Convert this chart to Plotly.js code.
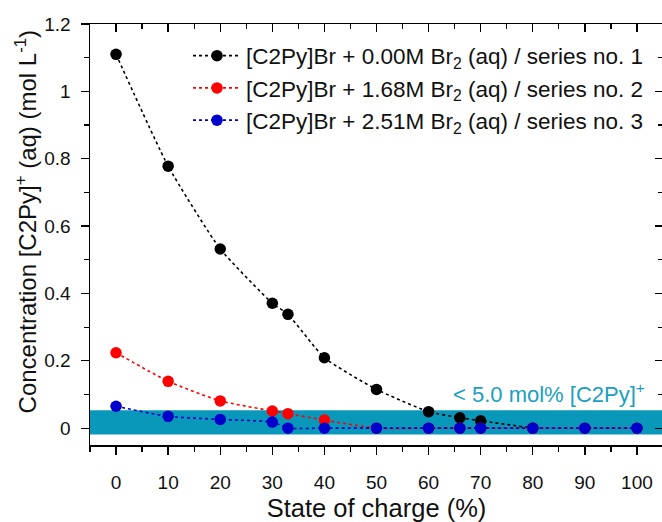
<!DOCTYPE html>
<html>
<head>
<meta charset="utf-8">
<script src="https://cdn.plot.ly/plotly-3.0.1.min.js"></script>
<style>html,body{margin:0;padding:0;overflow:hidden;background:#fff;}</style>
</head>
<body>
<div id="chart"></div>
<script>
// State of charge (%) and [C2Py]+ concentration (mol/L)
const socBlack = [0, 10, 20, 30, 33, 40, 50, 60, 66, 70, 80];
const concBlack = [1.11, 0.778, 0.532, 0.371, 0.338, 0.209, 0.115, 0.049, 0.031, 0.022, 0];
const socRed = [0, 10, 20, 30, 33, 40, 50, 60, 66, 70, 80, 90, 100];
const concRed = [0.224, 0.139, 0.081, 0.051, 0.043, 0.024, 0, 0, 0, 0, 0, 0, 0];
const socBlue = [0, 10, 20, 30, 33, 40, 50, 60, 66, 70, 80, 90, 100];
const concBlue = [0.065, 0.035, 0.026, 0.018, 0, 0, 0, 0, 0, 0, 0, 0, 0];
const seriesNames = [
  '[C2Py]Br + 0.00M Br<sub>2</sub> (aq) / series no. 1',
  '[C2Py]Br + 1.68M Br<sub>2</sub> (aq) / series no. 2',
  '[C2Py]Br + 2.51M Br<sub>2</sub> (aq) / series no. 3'
];
const bandLow = -0.019, bandHigh = 0.053;
const xTicks = [0, 10, 20, 30, 40, 50, 60, 70, 80, 90, 100];
const xRange = [-5, 105];
const yRange = [-0.05, 1.2];

const font = 'Liberation Sans, Arial, sans-serif';
function tr(x, y, name, color) {
  return {
    x: x, y: y, name: name, type: 'scatter', mode: 'lines+markers',
    line: {color: color, dash: 'dot', width: 1.6, shape: 'spline', smoothing: 0.5},
    marker: {color: color, size: 11.5}
  };
}
const data = [
  tr(socBlack, concBlack, seriesNames[0], '#000000'),
  tr(socRed, concRed, seriesNames[1], '#ff0000'),
  tr(socBlue, concBlue, seriesNames[2], '#0000cc'),
  {x: [null], y: [null], xaxis: 'x2', yaxis: 'y2', type: 'scatter', mode: 'markers',
   showlegend: false, hoverinfo: 'skip'}
];
const axisCommon = {
  showline: true, linecolor: '#000', linewidth: 1.5,
  ticklen: 8, tickwidth: 1.3, tickcolor: '#000',
  showgrid: false, zeroline: false,
  tickfont: {family: font, size: 19, color: '#111'}
};
const layout = {
  width: 664, height: 522,
  margin: {l: 90, r: 1, t: 23.5, b: 77},
  paper_bgcolor: '#fff', plot_bgcolor: '#fff',
  font: {family: font, color: '#111'},
  showlegend: true,
  legend: {
    x: 0.171, y: 0.975, xanchor: 'left', yanchor: 'top',
    bgcolor: 'rgba(0,0,0,0)', font: {family: font, size: 22.5, color: '#111'},
    tracegroupgap: 0, itemwidth: 48
  },
  xaxis: Object.assign({}, axisCommon, {
    range: xRange, tickvals: xTicks, ticks: 'outside', ticklabelstandoff: 12,
    minor: {dtick: 5, tick0: 0, ticks: 'outside', ticklen: 5, tickcolor: '#000', tickwidth: 1.2},
    title: {text: 'State of charge (%)', font: {family: font, size: 25.5, color: '#111'}, standoff: 10}
  }),
  yaxis: Object.assign({}, axisCommon, {
    range: yRange, dtick: 0.2, tick0: 0, ticks: 'outside', ticklabelstandoff: 6,
    minor: {dtick: 0.1, tick0: 0, ticks: 'outside', ticklen: 5, tickcolor: '#000', tickwidth: 1.2}
  }),
  xaxis2: Object.assign({}, axisCommon, {
    overlaying: 'x', side: 'top', range: xRange, tickvals: xTicks, ticks: 'inside',
    showticklabels: false,
    minor: {dtick: 5, tick0: 0, ticks: 'inside', ticklen: 5, tickcolor: '#000', tickwidth: 1.2}
  }),
  yaxis2: Object.assign({}, axisCommon, {
    overlaying: 'y', side: 'right', range: yRange, dtick: 0.2, tick0: 0, ticks: 'inside',
    showticklabels: false,
    minor: {dtick: 0.1, tick0: 0, ticks: 'inside', ticklen: 5, tickcolor: '#000', tickwidth: 1.2}
  }),
  shapes: [{
    type: 'rect', xref: 'paper', x0: 0, x1: 1, yref: 'y', y0: bandLow, y1: bandHigh,
    fillcolor: '#0a98ba', line: {width: 0}, layer: 'below'
  }],
  annotations: [{
    x: 101.9, y: 0.1055, xref: 'x', yref: 'y', xanchor: 'right', yanchor: 'middle',
    text: '< 5.0 mol% [C2Py]<sup>+</sup>', showarrow: false,
    font: {family: font, size: 22, color: '#1a9fc0'}
  }, {
    x: 0, y: 0.531, xref: 'paper', yref: 'paper', xshift: -64,
    xanchor: 'center', yanchor: 'middle', textangle: -90, showarrow: false,
    text: 'Concentration [C2Py]<sup>+</sup> (aq) (mol L<sup>-1</sup>)',
    font: {family: font, size: 24, color: '#111'}
  }]
};
Plotly.newPlot('chart', data, layout, {displayModeBar: false, staticPlot: true});
</script>
</body>
</html>
